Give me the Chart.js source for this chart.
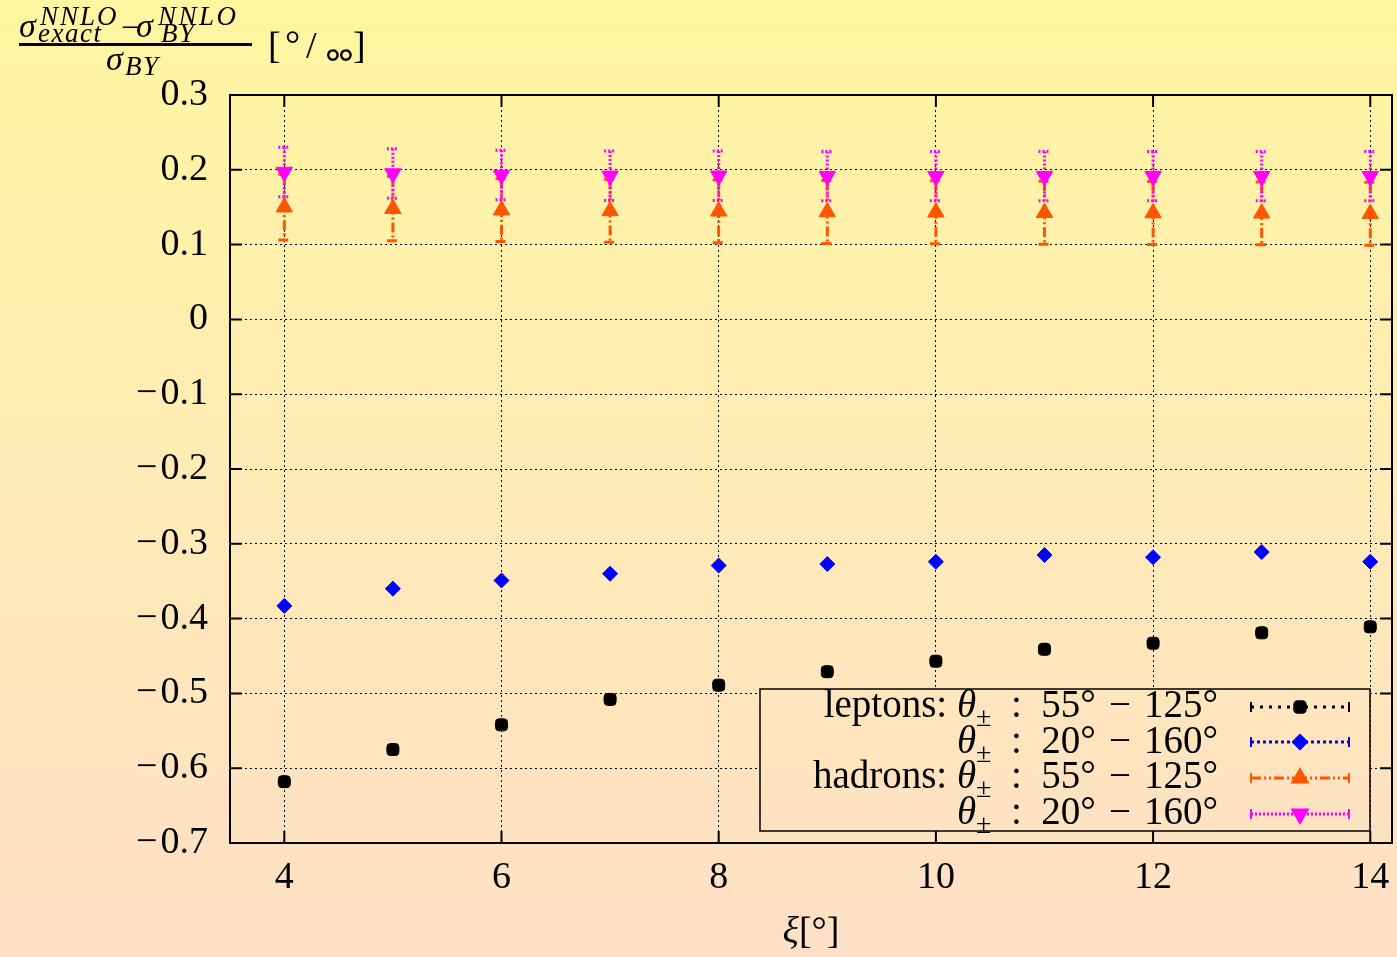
<!DOCTYPE html>
<html>
<head>
<meta charset="utf-8">
<script src="https://cdn.jsdelivr.net/npm/chart.js@4.4.1/dist/chart.umd.min.js"></script>
<style>
  html, body { margin: 0; padding: 0; }
  body {
    width: 1397px; height: 957px; overflow: hidden;
    background: linear-gradient(to bottom, #fff6a0 0%, #ffebb6 50%, #ffdfc6 100%);
  }
  canvas { display: block; }
</style>
</head>
<body>
<canvas id="chart" width="1397" height="957"></canvas>
<script>
// xi in degrees
const xValues = [4, 5, 6, 7, 8, 9, 10, 11, 12, 13, 14];

// leptons
const leptons55to125 = [-0.618, -0.575, -0.542, -0.508, -0.489, -0.471, -0.457, -0.441, -0.433, -0.419, -0.411];
const leptons20to160 = [-0.383, -0.360, -0.349, -0.340, -0.329, -0.327, -0.324, -0.315, -0.318, -0.311, -0.324];

// hadrons (with error bars)
const hadrons55to125 = [0.150, 0.148, 0.146, 0.145, 0.1445, 0.1436, 0.1433, 0.1426, 0.1422, 0.1418, 0.1412];
const hadrons55to125Err = [0.044, 0.043, 0.042, 0.042, 0.042, 0.042, 0.042, 0.042, 0.042, 0.042, 0.042];
const hadrons20to160 = [0.197, 0.195, 0.193, 0.192, 0.192, 0.1915, 0.1915, 0.1915, 0.1915, 0.1915, 0.1915];
const hadrons20to160Err = [0.033, 0.033, 0.033, 0.033, 0.033, 0.033, 0.033, 0.033, 0.033, 0.033, 0.033];

const xTickValues = [4, 6, 8, 10, 12, 14];
const xTickLabels = ['4', '6', '8', '10', '12', '14'];
const yTickValues = [-0.7, -0.6, -0.5, -0.4, -0.3, -0.2, -0.1, 0, 0.1, 0.2, 0.3];
const yTickLabels = ['\u2212\u200a0.7', '\u2212\u200a0.6', '\u2212\u200a0.5', '\u2212\u200a0.4', '\u2212\u200a0.3',
                     '\u2212\u200a0.2', '\u2212\u200a0.1', '0', '0.1', '0.2', '0.3'];

const legendPrefixes = ['leptons: ', '', 'hadrons: ', ''];
const legendRanges = ['55\u00b0 \u2212 125\u00b0', '20\u00b0 \u2212 160\u00b0', '55\u00b0 \u2212 125\u00b0', '20\u00b0 \u2212 160\u00b0'];

const FONT = '"Liberation Serif", "DejaVu Serif", serif';

function pts(ys) {
  return xValues.map((x, i) => ({ x: x, y: ys[i] }));
}

function bgGradient(ctx) {
  let g = ctx.createLinearGradient(0, 0, 0, 957);
  g.addColorStop(0, '#fff6a0');
  g.addColorStop(0.5, '#ffebb6');
  g.addColorStop(1, '#ffdfc6');
  return g;
}

function txt(ctx, s, x, y, size, italic, family) {
  ctx.font = (italic ? 'italic ' : '') + size + 'px ' + (family || FONT);
  ctx.fillText(s, x, y);
  return ctx.measureText(s).width;
}

// letter-spaced text, used for the math superscripts
function spaced(ctx, s, x, y, size, italic, gap) {
  let x0 = x;
  for (const ch of s) {
    x += txt(ctx, ch, x, y, size, italic) + gap;
  }
  return x - x0;
}

function drawMarker(ctx, ds, x, y) {
  ctx.save();
  ctx.setLineDash([]);
  ctx.fillStyle = ds.pointBackgroundColor;
  ctx.strokeStyle = ds.pointBorderColor;
  Chart.helpers.drawPoint(ctx, {
    pointStyle: ds.pointStyle,
    rotation: ds.pointRotation || 0,
    radius: ds.pointRadius,
    borderWidth: ds.pointBorderWidth
  }, x, y);
  ctx.restore();
}

const gnuplotLook = {
  id: 'gnuplotLook',
  beforeDatasetDraw(chart, args) {
    const ds = chart.data.datasets[args.index];
    if (!ds.errorBars) return;
    const ctx = chart.ctx, ys = chart.scales.y;
    ctx.save();
    ctx.strokeStyle = ds.borderColor;
    ctx.lineWidth = 3;
    ctx.setLineDash(ds.errorDash);
    args.meta.data.forEach((p, i) => {
      const v = ds.data[i].y, e = ds.errorBars[i];
      const yTop = ys.getPixelForValue(v + e), yBot = ys.getPixelForValue(v - e);
      ctx.beginPath();
      ctx.moveTo(p.x, yTop); ctx.lineTo(p.x, yBot);
      ctx.moveTo(p.x - 6, yTop); ctx.lineTo(p.x + 6, yTop);
      ctx.moveTo(p.x - 6, yBot); ctx.lineTo(p.x + 6, yBot);
      ctx.stroke();
    });
    ctx.restore();
  },
  afterDatasetsDraw(chart) {
    const ctx = chart.ctx, a = chart.chartArea;
    const xs = chart.scales.x, ys = chart.scales.y;

    // key box
    const L = 760, T = 689, R = 1370, B = 831;
    ctx.save();
    ctx.fillStyle = bgGradient(ctx);
    ctx.fillRect(L, T, R - L, B - T);
    ctx.strokeStyle = '#000';
    ctx.lineWidth = 1.5;
    ctx.strokeRect(L, T, R - L, B - T);
    ctx.fillStyle = '#000';
    const rowBase = [717, 753, 788, 824];
    const rowMid = [707, 742, 778, 814];
    [0, 1, 2, 3].forEach(k => {
      const ds = chart.data.datasets[k];
      const pre = legendPrefixes[k];
      const rest = '\u2002:\u2002' + legendRanges[k].replace(' \u2212 ', '\u2004\u2212\u2004');
      ctx.font = '39px ' + FONT;
      let w = ctx.measureText(pre).width + ctx.measureText(rest).width;
      ctx.font = 'italic 39px ' + FONT;
      w += ctx.measureText('\u03b8').width;
      ctx.font = '28px ' + FONT;
      w += ctx.measureText('\u00b1').width;
      let x = 1218 - w;
      const yb = rowBase[k];
      x += txt(ctx, pre, x, yb, 39, false);
      x += txt(ctx, '\u03b8', x, yb, 39, true);
      x += txt(ctx, '\u00b1', x, yb + 9, 28, false);
      txt(ctx, rest, x, yb, 39, false);

      // sample
      const ym = rowMid[k];
      ctx.save();
      ctx.strokeStyle = ds.borderColor;
      ctx.lineWidth = 3;
      ctx.setLineDash(ds.keyDash);
      ctx.beginPath();
      ctx.moveTo(1251, ym); ctx.lineTo(1349, ym);
      ctx.stroke();
      ctx.setLineDash([]);
      ctx.lineWidth = 2;
      ctx.beginPath();
      ctx.moveTo(1251, ym - 5); ctx.lineTo(1251, ym + 5);
      ctx.moveTo(1349, ym - 5); ctx.lineTo(1349, ym + 5);
      ctx.stroke();
      ctx.restore();
      drawMarker(ctx, ds, 1300, ym);
    });
    ctx.restore();

    // frame and inward ticks
    ctx.save();
    ctx.strokeStyle = '#000';
    ctx.lineWidth = 2;
    ctx.setLineDash([]);
    ctx.strokeRect(a.left, a.top, a.right - a.left, a.bottom - a.top);
    ctx.beginPath();
    yTickValues.forEach(v => {
      const y = ys.getPixelForValue(v);
      ctx.moveTo(a.left, y); ctx.lineTo(a.left + 12, y);
      ctx.moveTo(a.right, y); ctx.lineTo(a.right - 12, y);
    });
    xTickValues.forEach(v => {
      const x = xs.getPixelForValue(v);
      ctx.moveTo(x, a.bottom); ctx.lineTo(x, a.bottom - 12);
      ctx.moveTo(x, a.top); ctx.lineTo(x, a.top + 12);
    });
    ctx.stroke();
    ctx.restore();
  },
  afterDraw(chart) {
    const ctx = chart.ctx, a = chart.chartArea;
    ctx.save();
    ctx.fillStyle = '#000';
    ctx.textBaseline = 'alphabetic';

    // x axis title
    ctx.font = 'italic 38px ' + FONT;
    const w1 = ctx.measureText('\u03be').width;
    ctx.font = '38px ' + FONT;
    const w2 = ctx.measureText('[\u00b0]').width;
    const cx = (a.left + a.right) / 2;
    let x = cx - (w1 + w2) / 2;
    x += txt(ctx, '\u03be', x, 943, 38, true);
    txt(ctx, '[\u00b0]', x, 943, 38, false);

    // y axis title (fraction)
    txt(ctx, '\u03c3', 19, 37, 34, true);
    spaced(ctx, 'NNLO', 40, 25, 27, true, 2);
    spaced(ctx, 'exact', 38, 42, 27, true, 1.5);
    txt(ctx, '\u2212', 121, 38, 32, false);
    txt(ctx, '\u03c3', 136, 37, 34, true);
    spaced(ctx, 'NNLO', 158, 25, 27, true, 2.5);
    spaced(ctx, 'BY', 161, 42, 27, true, 1.5);
    ctx.fillRect(19, 43, 233, 3);
    txt(ctx, '\u03c3', 106, 70, 34, true);
    spaced(ctx, 'BY', 125, 75, 27, true, 1.5);
    // units: per mille
    txt(ctx, '[', 268, 58, 38, false);
    txt(ctx, '\u00b0', 285, 57, 38, false);
    txt(ctx, '/', 306, 58, 38, false);
    const ringFont = '38px "DejaVu Sans"';
    ctx.font = ringFont;
    const rw = ctx.measureText('\u2218').width;
    [333, 346].forEach(c => {
      ctx.font = ringFont;
      ctx.fillText('\u2218', c - rw / 2, 67);
    });
    txt(ctx, ']', 353, 58, 38, false);
    ctx.restore();
  }
};

const tickFont = { family: FONT, size: 38, lineHeight: 1.84 };

new Chart(document.getElementById('chart'), {
  type: 'scatter',
  data: {
    datasets: [
      {
        label: 'leptons 55-125',
        data: pts(leptons55to125),
        pointStyle: 'rectRounded', pointRadius: 7, pointBorderWidth: 1,
        pointBackgroundColor: '#000', pointBorderColor: '#000', borderColor: '#000',
        keyDash: [3, 6],
        order: 3
      },
      {
        label: 'leptons 20-160',
        data: pts(leptons20to160),
        pointStyle: 'rectRot', pointRadius: 7.5, pointBorderWidth: 1,
        pointBackgroundColor: '#0000ff', pointBorderColor: '#0000ff', borderColor: '#0000ff',
        keyDash: [3, 3],
        order: 2
      },
      {
        label: 'hadrons 55-125',
        data: pts(hadrons55to125),
        errorBars: hadrons55to125Err,
        pointStyle: 'triangle', pointRadius: 9.5, pointBorderWidth: 1,
        pointBackgroundColor: '#ff5500', pointBorderColor: '#ff5500', borderColor: '#ff5500',
        errorDash: [10, 3, 2, 3, 2, 3],
        keyDash: [10, 3, 2, 3, 2, 3],
        order: 1
      },
      {
        label: 'hadrons 20-160',
        data: pts(hadrons20to160),
        errorBars: hadrons20to160Err,
        pointStyle: 'triangle', pointRotation: 180, rotation: 180, pointRadius: 9.5, pointBorderWidth: 1,
        pointBackgroundColor: '#ff00ff', pointBorderColor: '#ff00ff', borderColor: '#ff00ff',
        errorDash: [2, 2],
        keyDash: [2, 2],
        order: 0
      }
    ]
  },
  options: {
    responsive: false,
    animation: false,
    devicePixelRatio: 1,
    layout: { autoPadding: false, padding: { top: 95, right: 5, left: 0, bottom: 0 } },
    plugins: {
      legend: { display: false },
      tooltip: { enabled: false }
    },
    scales: {
      x: {
        type: 'linear',
        min: 3.5,
        max: 14.2,
        afterBuildTicks: s => { s.ticks = xTickValues.map(v => ({ value: v })); },
        afterFit: s => { s.height = 114; s.paddingLeft = 0; s.paddingRight = 0; },
        ticks: {
          callback: (v, i) => xTickLabels[i],
          font: tickFont, color: '#000', padding: 0,
          autoSkip: false, maxRotation: 0
        },
        grid: { color: '#000', lineWidth: 1, drawTicks: false },
        border: { display: false, dash: [2, 3] }
      },
      y: {
        type: 'linear',
        min: -0.7,
        max: 0.3,
        afterBuildTicks: s => { s.ticks = yTickValues.map(v => ({ value: v })); },
        afterFit: s => { s.width = 230; s.paddingTop = 0; s.paddingBottom = 0; },
        ticks: {
          callback: (v, i) => yTickLabels[i],
          font: { family: FONT, size: 38 }, color: '#000', padding: 22,
          autoSkip: false
        },
        grid: { color: '#000', lineWidth: 1, drawTicks: false },
        border: { display: false, dash: [2, 3] }
      }
    }
  },
  plugins: [gnuplotLook]
});
</script>
</body>
</html>
